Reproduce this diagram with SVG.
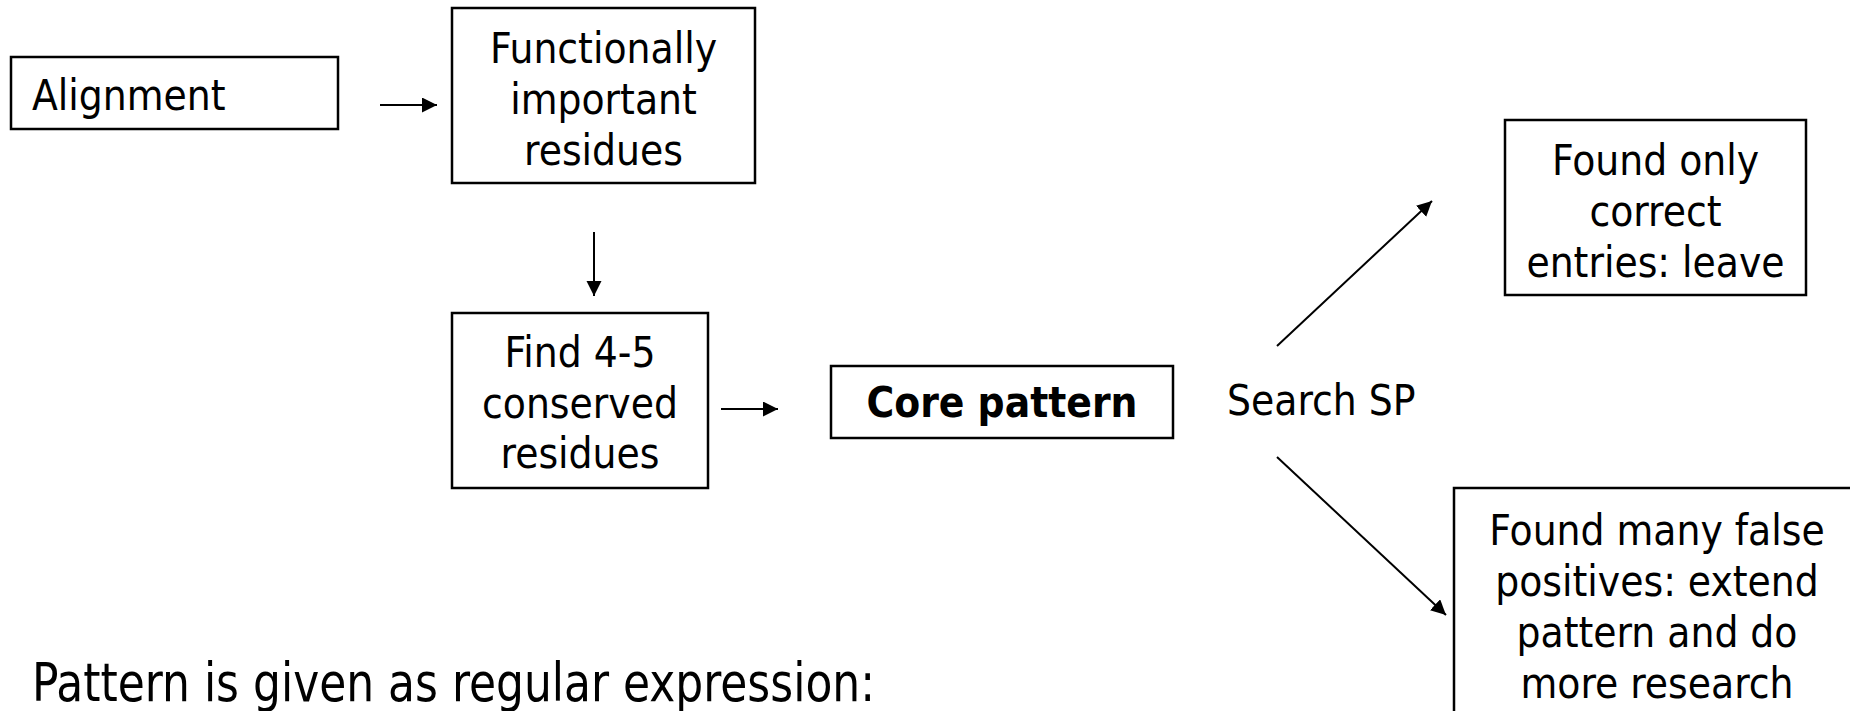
<svg xmlns="http://www.w3.org/2000/svg" width="1850" height="711" viewBox="0 0 1850 711">
  <style>
    text { font-family: "DejaVu Sans Condensed", "DejaVu Sans", sans-serif; font-stretch: condensed; font-size: 42px; fill: #000; }
    .c { text-anchor: middle; }
    .b { font-weight: bold; }
    .box { fill: #fff; stroke: #000; stroke-width: 2.5; }
    .edge { fill: none; stroke: #000; stroke-width: 2; marker-end: url(#arrow); }
  </style>
  <defs>
    <marker id="arrow" markerUnits="userSpaceOnUse" markerWidth="16" markerHeight="16" refX="15" refY="7.5" orient="auto">
      <path d="M0,0 L15,7.5 L0,15 z" fill="#000"/>
    </marker>
  </defs>
  <rect width="1850" height="711" fill="#fff"/>

  <g id="alignment">
    <rect class="box" x="11" y="57" width="327" height="72"/>
    <text x="32" y="110">Alignment</text>
  </g>

  <g id="functional-residues">
    <rect class="box" x="452" y="8" width="303" height="175"/>
    <text class="c" x="603.5" y="63">Functionally</text>
    <text class="c" x="603.5" y="114">important</text>
    <text class="c" x="603.5" y="165">residues</text>
  </g>

  <g id="conserved-residues">
    <rect class="box" x="452" y="313" width="256" height="175"/>
    <text class="c" x="580" y="367">Find 4-5</text>
    <text class="c" x="580" y="418">conserved</text>
    <text class="c" x="580" y="468">residues</text>
  </g>

  <g id="core-pattern">
    <rect class="box" x="831" y="366" width="342" height="72"/>
    <text class="c b" x="1002" y="417">Core pattern</text>
  </g>

  <g id="search-label">
    <text x="1227" y="415">Search SP</text>
  </g>

  <g id="correct-entries">
    <rect class="box" x="1505" y="120" width="301" height="175"/>
    <text class="c" x="1655.5" y="175">Found only</text>
    <text class="c" x="1655.5" y="226">correct</text>
    <text class="c" x="1655.5" y="277">entries: leave</text>
  </g>

  <g id="false-positives">
    <rect class="box" x="1454" y="488" width="420" height="240"/>
    <text class="c" x="1657" y="545">Found many false</text>
    <text class="c" x="1657" y="596">positives: extend</text>
    <text class="c" x="1657" y="647">pattern and do</text>
    <text class="c" x="1657" y="698">more research</text>
  </g>

  <g id="note">
    <text x="32" y="701" style="font-size:54px" textLength="843" lengthAdjust="spacingAndGlyphs">Pattern is given as regular expression:</text>
  </g>

  <g id="connectors">
    <line class="edge" x1="380" y1="105" x2="437" y2="105"/>
    <line class="edge" x1="594" y1="232" x2="594" y2="296"/>
    <line class="edge" x1="721" y1="409" x2="778" y2="409"/>
    <line class="edge" x1="1277" y1="346" x2="1432" y2="201"/>
    <line class="edge" x1="1277" y1="457" x2="1446" y2="615"/>
  </g>
</svg>
